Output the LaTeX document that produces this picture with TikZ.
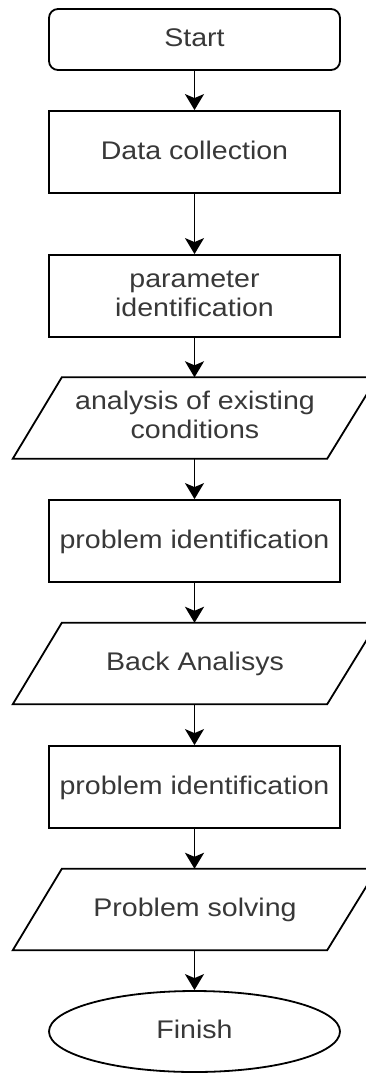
\documentclass[tikz,border=0pt]{standalone}
\usepackage{fontspec}
\setmainfont{Liberation Sans}
\usetikzlibrary{arrows.meta,shapes.geometric}
\newcommand{\wtxt}[1]{\scalebox{1.12}[1]{#1}}
\newcommand{\ttxt}[2]{\scalebox{1.12}[1]{\begin{tabular}{@{}c@{}}#1\\#2\end{tabular}}}
\begin{document}
\begin{tikzpicture}[x=1pt,y=-1pt,
  every node/.style={font=\fontsize{25.5}{29.5}\selectfont, text=black!78},
  boxnode/.style={draw=black, line width=1.8pt, minimum width=291pt, minimum height=82pt, inner sep=0pt},
  ionode/.style={draw=none, minimum width=364pt, minimum height=81pt, inner sep=0pt},
  endnode/.style={draw=black, line width=1.8pt, ellipse, minimum width=291pt, minimum height=81pt, inner sep=0pt},
  oneline/.style={text height=19pt, text depth=5pt},
  flow/.style={draw=black, line width=1.8pt, -{Stealth[length=16pt,width=19pt,inset=4pt]}},
  iopath/.style={draw=black, line width=1.8pt, line join=miter}]
\useasboundingbox (0,0) rectangle (366,1073);
\node[boxnode, oneline, rounded corners=9pt, minimum height=61pt] (start) at (194.5,39.5) {\wtxt{Start}};
\node[boxnode, oneline] (data) at (194.5,152) {\wtxt{Data collection}};
\node[boxnode] (param) at (194.5,296) {\ttxt{parameter}{identification}};
\node[ionode] (anal) at (195,418) {\raisebox{-2pt}{\ttxt{analysis of existing}{conditions}}};
\node[boxnode, oneline] (prob1) at (194.5,541) {\wtxt{problem identification}};
\node[ionode, oneline] (back) at (195,663.5) {\wtxt{Back Analisys}};
\node[boxnode, oneline] (prob2) at (194.5,787) {\wtxt{problem identification}};
\node[ionode, oneline] (solve) at (195,909.5) {\wtxt{Problem solving}};
\node[endnode, oneline] (finish) at (194.5,1031.5) {\wtxt{Finish}};
\foreach \n in {anal,back,solve}{
  \draw[iopath] ([xshift=49pt]\n.north west) -- (\n.north east) -- ([xshift=-50pt]\n.south east) -- (\n.south west) -- cycle;
}
\draw[flow] (start.south) -- (data.north);
\draw[flow] (data.south) -- (param.north);
\draw[flow] (param.south) -- (param.south |- anal.north);
\draw[flow] (param.south |- anal.south) -- (prob1.north);
\draw[flow] (prob1.south) -- (prob1.south |- back.north);
\draw[flow] (prob1.south |- back.south) -- (prob2.north);
\draw[flow] (prob2.south) -- (prob2.south |- solve.north);
\draw[flow] (prob2.south |- solve.south) -- (finish.north);
\end{tikzpicture}
\end{document}
